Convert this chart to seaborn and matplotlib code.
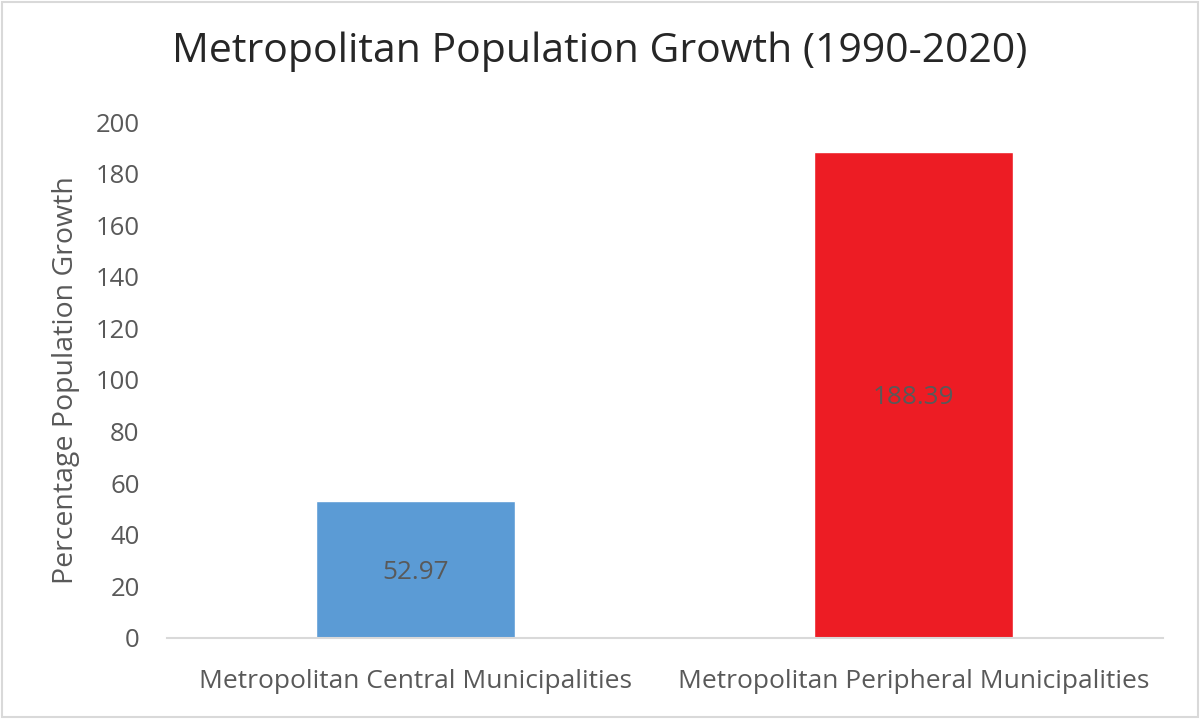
import matplotlib
matplotlib.use("Agg")
import matplotlib.pyplot as plt
import seaborn as sns
import pandas as pd
from matplotlib.patches import Rectangle

categories = ["Metropolitan Central Municipalities", "Metropolitan Peripheral Municipalities"]
values = [52.97, 188.39]
colors = ["#5B9BD5", "#ED1C24"]
labels = ["52.97", "188.39"]

sns.set_theme(style="white")
plt.rcParams['font.family'] = ['Open Sans', 'DejaVu Sans']

df = pd.DataFrame({"cat": categories, "val": values})

fig = plt.figure(figsize=(12, 7.19), dpi=100)
ax = fig.add_axes([0.139, 0.1127, 0.830, 0.7176])
sns.barplot(data=df, x="cat", y="val", hue="cat", palette=colors, width=0.4,
            ax=ax, legend=False, saturation=1)

ax.set_ylim(0, 200)
ax.set_yticks(range(0, 201, 20))
ax.set_xlim(-0.5, 1.5)
ax.set_xlabel("")
ax.set_ylabel("Percentage Population Growth", fontsize=20.5, color="#595959")
ax.yaxis.set_label_coords(-0.087, 0.5)
ax.tick_params(axis='y', labelsize=18.5, labelcolor="#595959", length=0, pad=19.5)
ax.tick_params(axis='x', labelsize=19, labelcolor="#595959", length=0, pad=22)
for s in ["top", "right", "left"]:
    ax.spines[s].set_visible(False)
ax.spines["bottom"].set_color("#D9D9D9")
ax.spines["bottom"].set_linewidth(1.5)

for i, (v, t) in enumerate(zip(values, labels)):
    ax.text(i, v / 2, t, ha="center", va="center_baseline", fontsize=18.8, color="#595959")

fig.text(0.5, 1 - 52 / 719, "Metropolitan Population Growth (1990-2020)", fontsize=29.5,
         color="#262626", ha="center", va="center")
fig.patches.append(Rectangle((0.002, 0.003), 0.996, 0.994, transform=fig.transFigure,
                             fill=False, edgecolor="#D9D9D9", linewidth=1.5))
fig.savefig("out.png", dpi=100, facecolor="white")
